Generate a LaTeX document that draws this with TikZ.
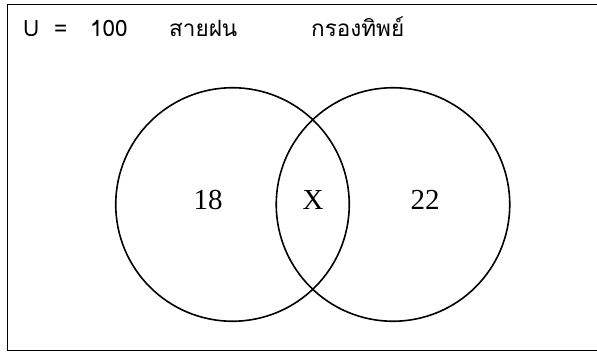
\documentclass[tikz,border=0pt]{standalone}
\usepackage{fontspec}
\setmainfont{Liberation Serif}
\newfontfamily\thaifont[Script=Thai]{Loma}
\begin{document}
\begin{tikzpicture}[x=1pt,y=-1pt,
  venn/.style={draw=black,line width=1.6pt},
  frame/.style={draw=black,line width=1.8pt},
  toplabel/.style={anchor=base west,inner sep=0pt,font=\thaifont\fontsize{22.5}{26}\selectfont},
  num/.style={inner sep=0pt,font=\fontsize{29}{32}\selectfont}]
\useasboundingbox (0,0) rectangle (597,352);
\draw[frame] (7.5,4.5) rectangle (610,350.5);
\node[venn,circle,minimum size=233.5pt,inner sep=0pt] (A) at (232.5,204.5) {};
\node[venn,circle,minimum size=233.5pt,inner sep=0pt] (B) at (393,204.5) {};
\node[toplabel] (u) at (23,36.5) {U};
\node[toplabel] (eq) at (54,36.5) {=};
\node[toplabel] (n) at (90,36.5) {100};
\node[toplabel] (sa) at (169,36.5) {สายฝน};
\node[toplabel] (kr) at (311,36.5) {กรองทิพย์};
\node[num] (a) at (208,200) {18};
\node[num] (x) at (313,200) {X};
\node[num] (b) at (425,200) {22};
\end{tikzpicture}
\end{document}
